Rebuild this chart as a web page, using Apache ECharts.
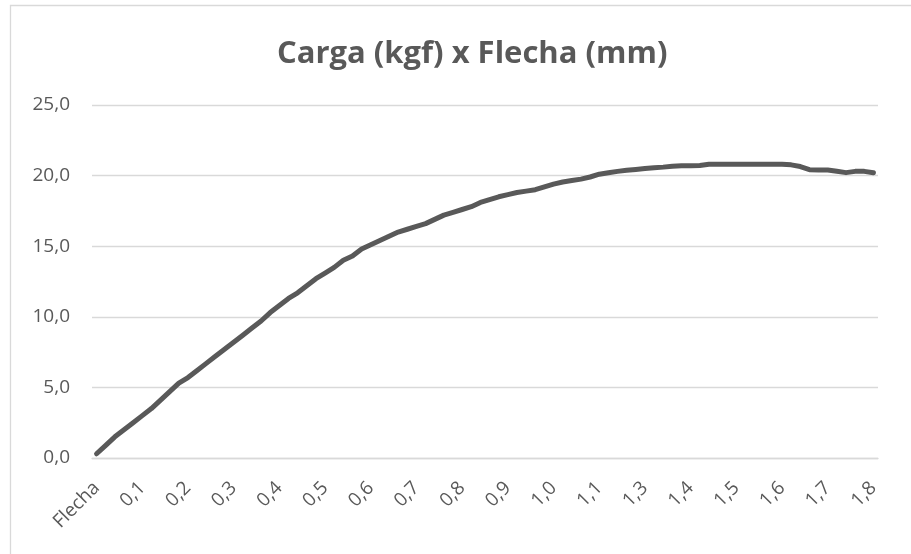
<!DOCTYPE html>
<html>
<head>
<meta charset="utf-8">
<title>Carga (kgf) x Flecha (mm)</title>
<script src="https://cdn.jsdelivr.net/npm/echarts@6/dist/echarts.min.js"></script>
<style>
  html, body { margin: 0; padding: 0; background: #ffffff; }
  #chart { width: 911px; height: 554px; }
</style>
</head>
<body>
<div id="chart"></div>
<script>
// Axis tick labels, one for every fifth reading
const tickLabels = ['Flecha', '0,1', '0,2', '0,3', '0,4', '0,5', '0,6', '0,7', '0,8',
  '0,9', '1,0', '1,1', '1,3', '1,4', '1,5', '1,6', '1,7', '1,8'];
const readingsPerTick = 5;

// Load readings (kgf), in test order
const carga = [
  0.3, 0.9, 1.5, 2.0, 2.5, 3.0, 3.5, 4.1, 4.7, 5.3,
  5.7, 6.2, 6.7, 7.2, 7.7, 8.2, 8.7, 9.2, 9.7, 10.3,
  10.8, 11.3, 11.7, 12.2, 12.7, 13.1, 13.5, 14.0, 14.3, 14.8,
  15.1, 15.4, 15.7, 16.0, 16.2, 16.4, 16.6, 16.9, 17.2, 17.4,
  17.6, 17.8, 18.1, 18.3, 18.5, 18.65, 18.8, 18.9, 19.0, 19.2,
  19.4, 19.55, 19.65, 19.75, 19.9, 20.1, 20.2, 20.3, 20.38, 20.44,
  20.5, 20.55, 20.6, 20.67, 20.7, 20.7, 20.72, 20.8, 20.8, 20.8,
  20.8, 20.8, 20.8, 20.8, 20.8, 20.8, 20.76, 20.64, 20.42, 20.4,
  20.4, 20.31, 20.21, 20.3, 20.3, 20.2
];

// Value axis ticks
const yMin = 0, yMax = 25, yStep = 5;

const categories = carga.map((_, i) => 'r' + i);
const textColor = '#595959';
const fontFamily = '"Open Sans", "Noto Sans", sans-serif';

const chart = echarts.init(document.getElementById('chart'), null, { renderer: 'canvas' });
chart.setOption({
  animation: false,
  backgroundColor: '#ffffff',
  title: {
    text: 'Carga (kgf) x Flecha (mm)',
    left: 272,
    top: 34,
    textStyle: { color: textColor, fontSize: 31, fontWeight: 'bold', fontFamily: fontFamily }
  },
  graphic: [{
    type: 'rect',
    shape: { x: 10.5, y: 5.5, width: 1000, height: 1000 },
    style: { fill: 'none', stroke: '#d9d9d9', lineWidth: 1.3 },
    silent: true
  }],
  grid: { left: 92, right: 33, top: 105, bottom: 96, containLabel: false },
  xAxis: {
    type: 'category',
    data: categories,
    boundaryGap: true,
    axisLine: { show: true, lineStyle: { color: '#d9d9d9', width: 1.3 } },
    axisTick: { show: false },
    splitLine: { show: false },
    axisLabel: {
      interval: readingsPerTick - 1,
      rotate: 45,
      margin: 27,
      color: textColor,
      fontSize: 19,
      fontFamily: fontFamily,
      formatter: (v, idx) => tickLabels[Math.round(idx / readingsPerTick)] || ''
    }
  },
  yAxis: {
    type: 'value',
    min: yMin,
    max: yMax,
    interval: yStep,
    axisLine: { show: false },
    axisTick: { show: false },
    splitLine: { show: true, lineStyle: { color: '#d9d9d9', width: 1.3 } },
    axisLabel: {
      margin: 22,
      color: textColor,
      fontSize: 19,
      fontFamily: fontFamily,
      formatter: v => v.toFixed(1).replace('.', ',')
    }
  },
  series: [{
    type: 'line',
    data: carga,
    showSymbol: false,
    smooth: false,
    lineStyle: { color: '#595959', width: 5, cap: 'round', join: 'round' },
    emphasis: { disabled: true }
  }]
});
</script>
</body>
</html>
